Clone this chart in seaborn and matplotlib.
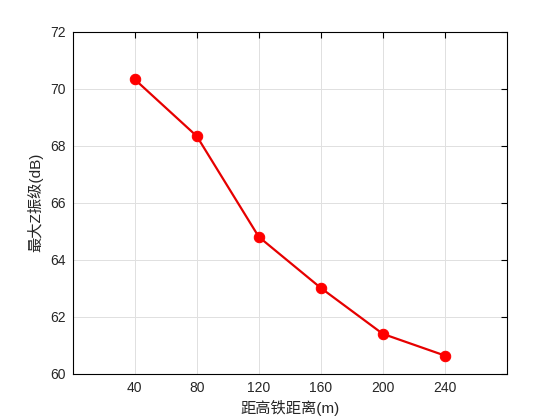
import pandas as pd
import matplotlib.pyplot as plt
import seaborn as sns

# data
distance = [40, 80, 120, 160, 200, 240]
level = [70.32, 68.33, 64.80, 63.01, 61.40, 60.64]
xticks = [40, 80, 120, 160, 200, 240]
yticks = [60, 62, 64, 66, 68, 70, 72]

df = pd.DataFrame({'distance': distance, 'level': level})

sns.set_style("whitegrid")
plt.rcParams['font.family'] = ['Liberation Sans', 'Noto Sans CJK SC', 'DejaVu Sans']
plt.rcParams['axes.unicode_minus'] = False

fig = plt.figure(figsize=(5.6, 4.2), dpi=100)
ax = fig.add_axes([0.13, 0.11, 0.775, 0.815])

sns.lineplot(data=df, x='distance', y='level', ax=ax, color='#e60000',
             linewidth=1.6, marker='o', markersize=7.5,
             markerfacecolor='#ff0000', markeredgecolor='#ff0000', zorder=3)

ax.set_xlim(0, 280)
ax.set_ylim(60, 72)
ax.set_xticks(xticks)
ax.set_yticks(yticks)
ax.grid(True, color='#e0e0e0', linewidth=0.7)
for s in ax.spines.values():
    s.set_color('black')
    s.set_linewidth(0.8)
ax.tick_params(direction='in', length=4, width=0.8, top=True, right=True,
               labelsize=10, colors='black', labelcolor='#262626', pad=5)
ax.set_xlabel('距高铁距离(m)', fontsize=11, color='#262626', labelpad=4)
ax.set_ylabel('最大Z振级(dB)', fontsize=11, color='#262626', labelpad=5)

fig.savefig('out.png', dpi=100)
